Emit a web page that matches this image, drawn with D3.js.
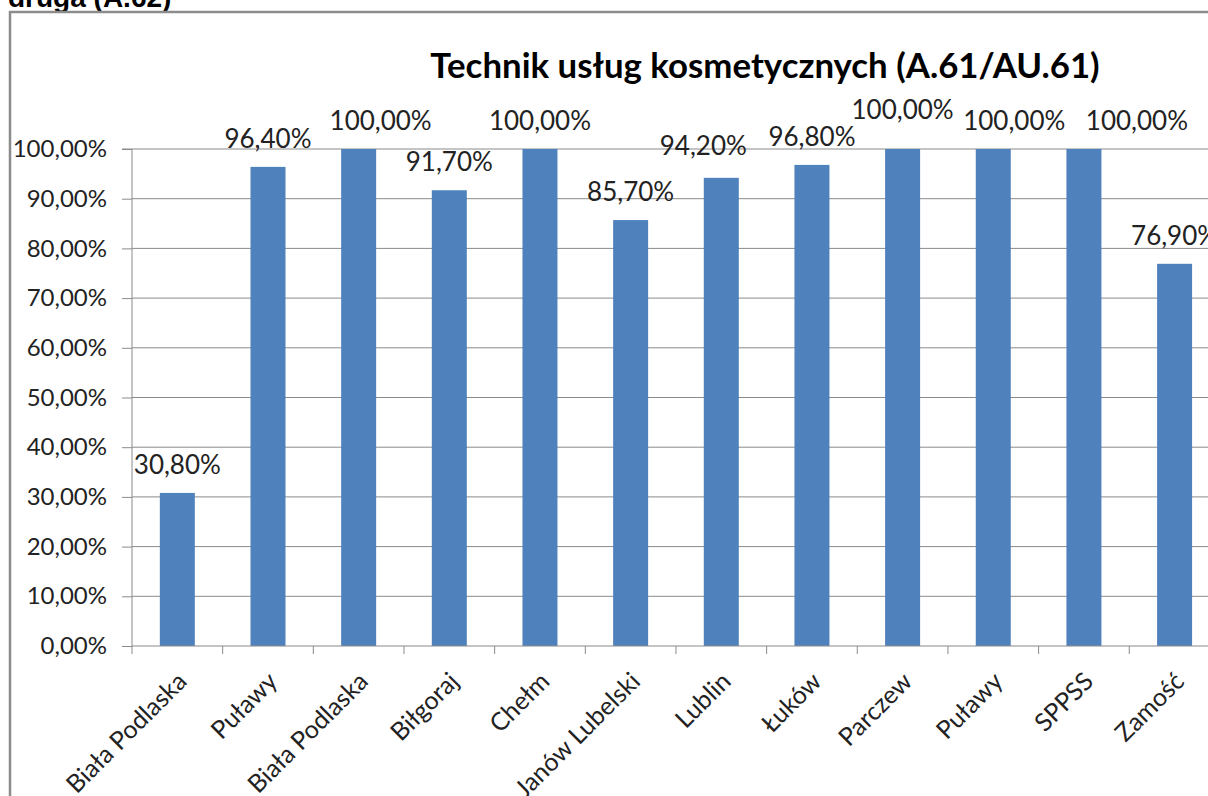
<!DOCTYPE html>
<html>
<head>
<meta charset="utf-8">
<script src="https://cdn.jsdelivr.net/npm/d3@7"></script>
<style>
  body { margin: 0; background: #fff; }
  svg { display: block; }
  text { font-family: Lato, "Open Sans", sans-serif; fill: #222; }
</style>
</head>
<body>
<svg id="svg" width="1208" height="796"></svg>
<script>
// dane wykresu
const categories = ["Biała Podlaska", "Puławy", "Biała Podlaska", "Biłgoraj", "Chełm", "Janów Lubelski",
  "Lublin", "Łuków", "Parczew", "Puławy", "SPPSS", "Zamość"];
const values = [30.8, 96.4, 100, 91.7, 100, 85.7, 94.2, 96.8, 100, 100, 100, 76.9];
const yTicks = [0, 10, 20, 30, 40, 50, 60, 70, 80, 90, 100];
const chartTitle = "Technik usług kosmetycznych (A.61/AU.61)";
const headerText = "druga (A.62)";

const svg = d3.select("#svg");
const margin = { top: 149, left: 132, bottom: 150 };
const plotRight = 132 + 12 * 90.66; // plot runs past the right edge (clipped)

const fmt = v => v.toFixed(2).replace(".", ",") + "%";

const x = d3.scaleBand()
  .domain(d3.range(categories.length))
  .range([margin.left, plotRight])
  .paddingInner(0.614)
  .paddingOuter(0.307);

const y = d3.scaleLinear()
  .domain([0, 100])
  .range([646, margin.top]);

// naglowek nad ramka (uciety)
svg.append("text")
  .attr("x", 8).attr("y", 7)
  .style("font-family", "'Liberation Sans', Arial, sans-serif")
  .style("font-weight", "bold")
  .style("font-size", "28px")
  .style("fill", "#000")
  .text(headerText);

// ramka wykresu
svg.append("rect")
  .attr("x", 10).attr("y", 12)
  .attr("width", 1300).attr("height", 900)
  .attr("fill", "none")
  .attr("stroke", "#8c8c8c")
  .attr("stroke-width", 2.5);

// siatka
svg.append("g")
  .selectAll("line")
  .data(yTicks.filter(d => d > 0))
  .enter()
  .append("line")
  .attr("x1", margin.left).attr("x2", 1220)
  .attr("y1", d => y(d)).attr("y2", d => y(d))
  .attr("stroke", "#8a8a8a")
  .attr("stroke-width", 1);

// slupki
svg.append("g")
  .selectAll("rect")
  .data(values)
  .enter()
  .append("rect")
  .attr("x", (d, i) => x(i))
  .attr("y", d => y(d))
  .attr("width", x.bandwidth())
  .attr("height", d => y(0) - y(d))
  .attr("fill", "#4f81bd");

// os Y
const yAxis = g => g
  .attr("transform", `translate(${margin.left},0)`)
  .call(d3.axisLeft(y).tickValues(yTicks).tickSize(10).tickPadding(15).tickFormat(fmt));
svg.append("g").call(yAxis)
  .call(g => g.select(".domain").attr("stroke", "#8a8a8a").attr("d", `M-10,${y(100)}H0V${y(0)}`))
  .call(g => g.selectAll(".tick line").attr("stroke", "#8a8a8a"))
  .call(g => g.selectAll(".tick text").style("font-size", "24px").style("fill", "#222"));

// os X
const step = x.step();
const boundaries = d3.range(categories.length + 1).map(i => margin.left + i * step);
svg.append("line")
  .attr("x1", margin.left).attr("x2", 1220)
  .attr("y1", y(0)).attr("y2", y(0))
  .attr("stroke", "#8a8a8a");
svg.append("g")
  .selectAll("line")
  .data(boundaries)
  .enter()
  .append("line")
  .attr("x1", d => d).attr("x2", d => d)
  .attr("y1", y(0)).attr("y2", y(0) + 8)
  .attr("stroke", "#8a8a8a");

svg.append("g")
  .selectAll("text")
  .data(categories)
  .enter()
  .append("text")
  .attr("transform", (d, i) => `translate(${x(i) + x.bandwidth() / 2 + 11},683) rotate(-45)`)
  .attr("text-anchor", "end")
  .style("font-size", "25px")
  .text(d => d);

// etykiety wartosci (przesuniecia jak w Excelu, zeby sie nie nakladaly)
const nudgeX = { 2: 22, 6: -18, 9: 21, 10: 53 };
const nudgeY = { 6: -4, 8: -11 };
svg.append("g")
  .selectAll("text")
  .data(values)
  .enter()
  .append("text")
  .attr("x", (d, i) => x(i) + x.bandwidth() / 2 + (nudgeX[i] || 0))
  .attr("y", (d, i) => y(d) - 19 + (nudgeY[i] || 0))
  .attr("text-anchor", "middle")
  .style("font-size", "26px")
  .text(d => fmt(d));

// tytul
svg.append("text")
  .attr("x", 765).attr("y", 78)
  .attr("text-anchor", "middle")
  .style("font-weight", "bold")
  .style("font-size", "34.8px")
  .style("fill", "#000")
  .text(chartTitle);
</script>
</body>
</html>
